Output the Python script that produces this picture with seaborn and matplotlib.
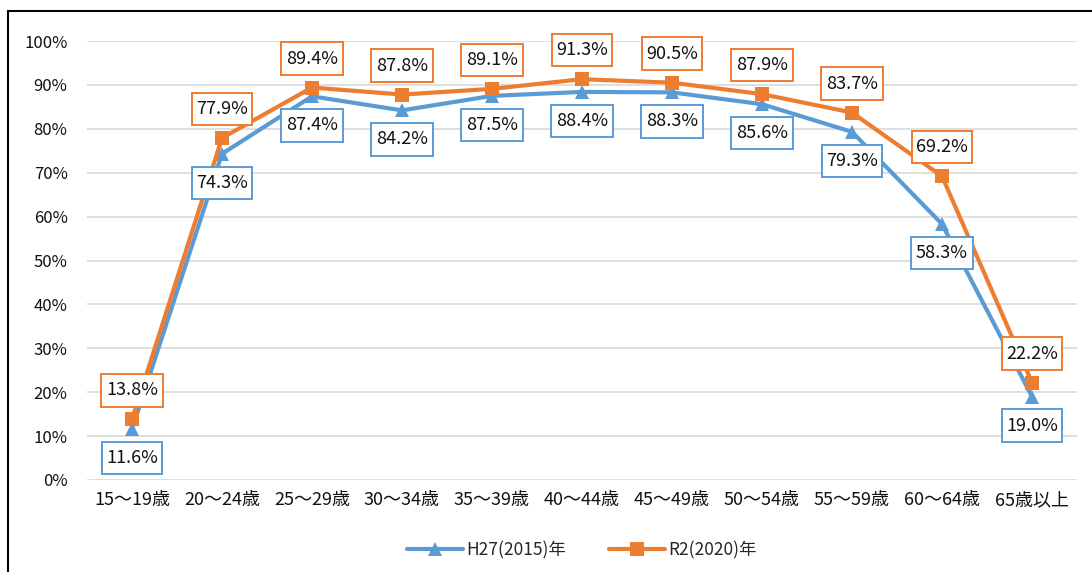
import pandas as pd
import seaborn as sns
import matplotlib.pyplot as plt
from matplotlib.patches import Rectangle
from matplotlib.path import Path
from matplotlib.ticker import PercentFormatter

# Data
age_groups = ["15～19歳", "20～24歳", "25～29歳", "30～34歳", "35～39歳", "40～44歳",
              "45～49歳", "50～54歳", "55～59歳", "60～64歳", "65歳以上"]
h27_values = [11.6, 74.3, 87.4, 84.2, 87.5, 88.4, 88.3, 85.6, 79.3, 58.3, 19.0]
r2_values = [13.8, 77.9, 89.4, 87.8, 89.1, 91.3, 90.5, 87.9, 83.7, 69.2, 22.2]
series_names = ["H27(2015)年", "R2(2020)年"]

blue = "#5B9BD5"
orange = "#ED7D31"

sns.set_style("white")
plt.rcParams['font.family'] = ['Noto Sans CJK JP', 'DejaVu Sans']


# Label box with more vertical padding than horizontal
def label_box(x0, y0, width, height, mutation_size):
    px, py = 0.25 * mutation_size, 0.4 * mutation_size
    x0, y0 = x0 - px, y0 - py
    x1, y1 = x0 + width + 2 * px, y0 + height + 2 * py
    return Path([(x0, y0), (x1, y0), (x1, y1), (x0, y1), (x0, y0)], closed=True)


df = pd.DataFrame({
    "age": age_groups * 2,
    "pos": list(range(len(age_groups))) * 2,
    "rate": h27_values + r2_values,
    "series": [series_names[0]] * len(age_groups) + [series_names[1]] * len(age_groups),
})

fig = plt.figure(figsize=(10.92, 5.72), dpi=100)
ax = fig.add_axes([87 / 1092, 1 - 480 / 572, 990 / 1092, 439 / 572])

sns.lineplot(data=df, x="pos", y="rate", hue="series", style="series",
             palette={series_names[0]: blue, series_names[1]: orange},
             markers={series_names[0]: "^", series_names[1]: "s"},
             dashes=False, linewidth=3, markersize=10, markeredgewidth=0,
             ax=ax)

# Data labels: blue below the points, orange above
for i, v in enumerate(h27_values):
    ax.annotate(f"{v:.1f}%", (i, v), xytext=(0, -29), textcoords="offset pixels",
                ha="center", va="center", fontsize=13, color="#111111",
                bbox=dict(boxstyle=label_box, fc="white", ec=blue, lw=1.4))
for i, v in enumerate(r2_values):
    ax.annotate(f"{v:.1f}%", (i, v), xytext=(0, 29), textcoords="offset pixels",
                ha="center", va="center", fontsize=13, color="#111111",
                bbox=dict(boxstyle=label_box, fc="white", ec=orange, lw=1.4))

ax.set_xlim(-0.5, len(age_groups) - 0.5)
ax.set_ylim(0, 100)
ax.set_yticks(range(0, 101, 10))
ax.yaxis.set_major_formatter(PercentFormatter(decimals=0))
ax.set_xticks(range(len(age_groups)))
ax.set_xticklabels(age_groups, fontsize=13)
ax.tick_params(axis="both", length=0, colors="#111111")
ax.tick_params(axis="y", labelsize=12, pad=14)
ax.tick_params(axis="x", pad=8)
ax.set_xlabel("")
ax.set_ylabel("")
ax.grid(axis="y", color="#D9D9D9", linewidth=1.2)
for s in ax.spines.values():
    s.set_visible(False)

leg = ax.legend(loc="center", bbox_to_anchor=(0.5, -0.16), ncol=2, frameon=False,
                fontsize=12.5, handlelength=3.2, columnspacing=2.5, handletextpad=0.2)
for h in leg.legend_handles:
    h.set_linewidth(3)

# Outer frame (cut at the right and bottom edges of the image)
fig.patches.append(Rectangle((8 / 1092, -0.1), 1.2, 1 - 11 / 572 + 0.1,
                             transform=fig.transFigure, fill=False,
                             ec="black", lw=1.5))

plt.savefig("out.png", dpi=100)
